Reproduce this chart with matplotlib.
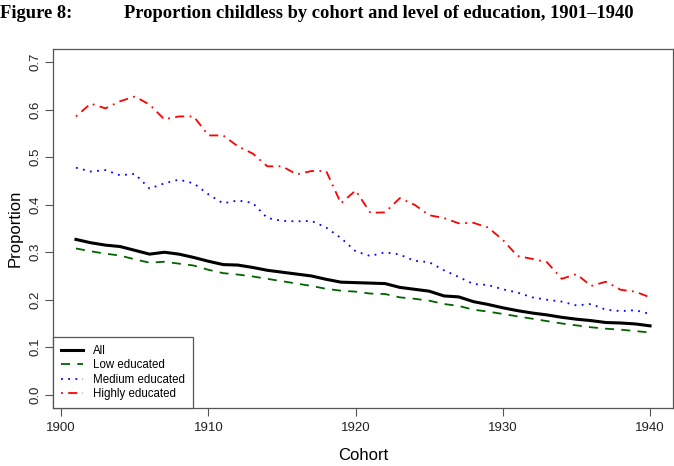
import matplotlib
matplotlib.use("Agg")
import matplotlib.pyplot as plt
import numpy as np

years = list(range(1901, 1941))
all_edu = [0.327, 0.320, 0.315, 0.312, 0.304, 0.296, 0.300, 0.296, 0.289, 0.281,
           0.274, 0.273, 0.268, 0.262, 0.258, 0.254, 0.250, 0.243, 0.237, 0.236,
           0.235, 0.234, 0.226, 0.222, 0.218, 0.208, 0.206, 0.196, 0.190, 0.183,
           0.177, 0.172, 0.168, 0.163, 0.159, 0.156, 0.152, 0.151, 0.149, 0.145]
low_edu = [0.308, 0.302, 0.297, 0.293, 0.285, 0.278, 0.280, 0.276, 0.272, 0.263,
           0.256, 0.253, 0.249, 0.244, 0.239, 0.234, 0.229, 0.223, 0.219, 0.217,
           0.213, 0.212, 0.205, 0.202, 0.198, 0.191, 0.187, 0.179, 0.175, 0.170,
           0.165, 0.160, 0.155, 0.150, 0.146, 0.142, 0.139, 0.137, 0.134, 0.131]
medium_edu = [0.478, 0.470, 0.473, 0.462, 0.465, 0.434, 0.445, 0.453, 0.445, 0.422,
              0.403, 0.409, 0.404, 0.372, 0.366, 0.365, 0.366, 0.352, 0.330, 0.302,
              0.292, 0.300, 0.295, 0.282, 0.279, 0.262, 0.248, 0.233, 0.231, 0.222,
              0.215, 0.205, 0.200, 0.196, 0.188, 0.191, 0.179, 0.176, 0.178, 0.170]
high_edu = [0.586, 0.613, 0.603, 0.618, 0.628, 0.611, 0.580, 0.586, 0.586, 0.546,
            0.546, 0.523, 0.508, 0.481, 0.481, 0.464, 0.471, 0.471, 0.403, 0.430,
            0.383, 0.384, 0.414, 0.400, 0.378, 0.372, 0.361, 0.362, 0.352, 0.326,
            0.292, 0.286, 0.279, 0.244, 0.254, 0.229, 0.238, 0.221, 0.217, 0.205]
labels = ["All", "Low educated", "Medium educated", "Highly educated"]
x_ticks = [1900, 1910, 1920, 1930, 1940]
y_ticks = [0.0, 0.1, 0.2, 0.3, 0.4, 0.5, 0.6, 0.7]

plt.rcParams['font.family'] = ['Liberation Sans', 'DejaVu Sans']

fig = plt.figure(figsize=(6.74, 4.66), dpi=100)
ax = fig.add_axes([53/674, 1 - 408/466, (673-53)/674, (408-49)/466])

ax.plot(years, all_edu, color="black", lw=2.2, ls="-", label=labels[0])
ax.plot(years, low_edu, color="#006400", lw=1.3, ls=(0, (5, 4)), label=labels[1])
ax.plot(years, medium_edu, color="#0000FF", lw=1.3, ls=(0, (1, 3)), label=labels[2])
ax.plot(years, high_edu, color="#FF0000", lw=1.3, ls=(0, (1, 3, 5, 3)), label=labels[3])

ax.set_xlim(1899.44, 1941.56)
ax.set_ylim(-0.028, 0.728)
ax.set_xticks(x_ticks)
ax.set_xticklabels([str(t) for t in x_ticks], fontsize=9.5, color="#222222")
ax.set_yticks(y_ticks)
ax.set_yticklabels([f"{t:.1f}" for t in y_ticks], fontsize=9.5, color="#222222",
                   rotation=90, va="center")
ax.tick_params(direction="out", length=6, width=0.8, color="#555555", pad=4)
ax.tick_params(axis="y", pad=2)
for s in ax.spines.values():
    s.set_color("#555555")
    s.set_linewidth(0.9)

ax.set_xlabel("Cohort", fontsize=12, labelpad=10)
ax.set_ylabel("Proportion", fontsize=12, labelpad=5)

leg = ax.legend(loc="lower left", bbox_to_anchor=(0, 0), borderaxespad=0,
                fancybox=False, framealpha=1, edgecolor="#555555",
                fontsize=8.3, handlelength=1.9, handletextpad=0.9,
                labelspacing=0.2, borderpad=0.7)
leg.get_frame().set_linewidth(0.9)

fig.text(0.0, 1 - 14/466, "Figure 8:", fontsize=13.3, fontweight="bold",
         family=["Liberation Serif", "DejaVu Serif"], va="center", ha="left")
fig.text(124/674, 1 - 14/466,
         "Proportion childless by cohort and level of education, 1901\u20131940",
         fontsize=13.3, fontweight="bold",
         family=["Liberation Serif", "DejaVu Serif"], va="center", ha="left")

fig.savefig("out.png", dpi=100)
